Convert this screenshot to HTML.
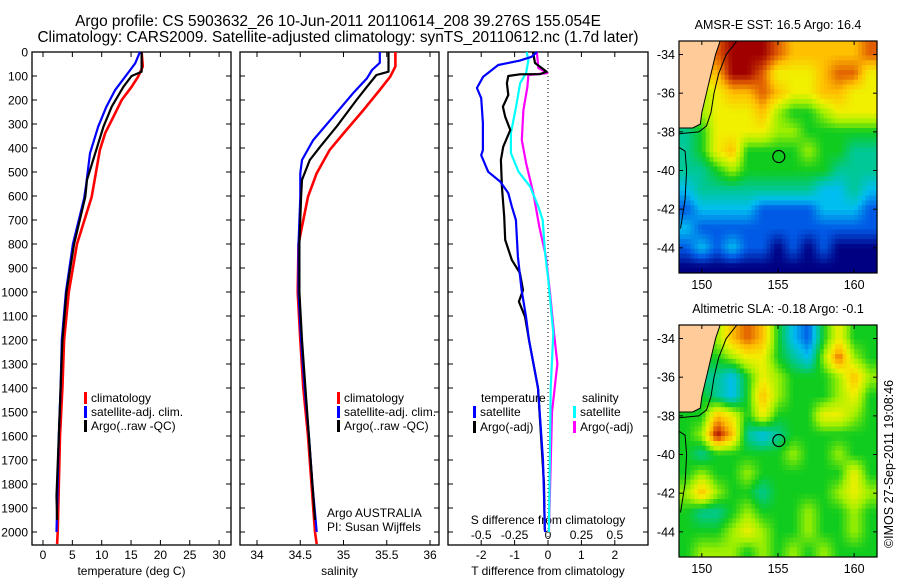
<!DOCTYPE html>
<html><head><meta charset="utf-8"><style>
html,body{margin:0;padding:0;background:#fff}
svg{display:block;font-family:"Liberation Sans",sans-serif}
text{fill:#000}
</style></head><body>
<svg id="fig" width="900" height="580" viewBox="0 0 900 580">
<rect width="900" height="580" fill="#fff"/>
<text x="338" y="26" font-size="15.4" text-anchor="middle">Argo profile: CS 5903632_26 10-Jun-2011 20110614_208 39.276S 155.054E</text>
<text x="338" y="42" font-size="15.4" text-anchor="middle">Climatology: CARS2009. Satellite-adjusted climatology: synTS_20110612.nc (1.7d later)</text>
<g id="g1"></g>
<g id="g2"></g>
<g id="g3"></g>
<g id="m1"></g>
<g id="m2"></g>
<text transform="translate(893,464) rotate(-90)" font-size="12.5" text-anchor="middle">©IMOS 27-Sep-2011 19:08:46</text>
</svg>
<script>
// ---- profile data ----
const depthTicks=[0,100,200,300,400,500,600,700,800,900,1000,1100,1200,1300,1400,1500,1600,1700,1800,1900,2000];
const tempTicks=[0,5,10,15,20,25,30];
const salTicks=[34,34.5,35,35.5,36];
const tdiffTicks=[-2,-1,0,1,2];
const sdiffTicks=[-0.5,-0.25,0,0.25,0.5];

const tClimDepth=[0,60,103,145,200,270,338,408,520,603,800,1000,1200,1400,1600,2000,2050];
const tClim=[16.8,17.0,16.2,15.1,13.4,12.0,10.6,9.7,8.9,8.3,5.8,4.4,3.6,3.3,2.9,2.5,2.4];
const tSatDepth=[0,47,103,158,228,311,422,561,610,800,1000,1200,1400,1600,2000];
const tSat=[16.5,15.7,14.0,12.3,10.8,9.4,8.0,7.3,7.0,5.1,3.9,3.2,3.0,2.7,2.3];
const tArgoDepth=[0,82,100,145,228,311,422,533,603,800,1000,1200,1400,1600,1850,1950];
const tArgo=[16.8,16.8,15.1,13.7,11.7,10.3,8.9,7.5,7.2,5.3,4.0,3.3,3.0,2.7,2.3,2.4];

const sClimDepth=[0,60,103,158,242,339,408,505,603,800,1000,1200,1400,1600,1800,2000,2050];
const sClim=[35.6,35.6,35.54,35.42,35.23,35.0,34.84,34.69,34.59,34.48,34.47,34.5,34.535,34.59,34.63,34.67,34.69];
const sSatDepth=[0,45,75,110,172,270,367,450,505,603,800,1000,1200,1400,1600,1800,2000];
const sSat=[35.42,35.42,35.33,35.27,35.11,34.88,34.65,34.52,34.5,34.5,34.48,34.48,34.51,34.55,34.6,34.64,34.69];
const sArgoDepth=[0,82,96,145,200,311,395,450,533,603,800,1000,1200,1400,1600,1800,1950];
const sArgo=[35.52,35.52,35.38,35.27,35.15,34.92,34.73,34.61,34.52,34.51,34.49,34.49,34.52,34.56,34.6,34.64,34.67];

const dTSatDepth=[0,20,36,54,103,150,192,296,408,430,499,540,588,645,700,853,992,1103,1200,1400,1700,2000];
const dTSat=[-0.33,-0.49,-0.84,-1.49,-1.94,-2.13,-2.0,-1.95,-1.95,-2.0,-1.79,-1.43,-1.19,-1.08,-0.96,-0.9,-0.79,-0.66,-0.57,-0.3,-0.15,-0.09];
const dTArgoDepth=[0,46,82,92,93,100,130,179,228,270,325,395,450,561,686,783,867,921,992,1040,1103,1200,1400,1800,1990];
const dTArgo=[-0.45,-0.39,-0.04,-0.24,-0.84,-1.19,-1.23,-1.19,-1.35,-1.28,-1.13,-1.34,-1.41,-1.38,-1.31,-1.28,-1.08,-0.84,-0.75,-0.87,-0.69,-0.57,-0.3,-0.12,-0.1];
const dSSatDepth=[0,33,88,130,228,338,421,499,561,645,700,838,950,1171,1400,2000];
const dSSat=[-0.16,-0.147,-0.164,-0.209,-0.239,-0.278,-0.278,-0.22,-0.134,-0.072,-0.04,-0.022,0.002,0.04,0.02,0.007];
const dSArgoDepth=[0,67,88,96,145,242,367,463,588,728,853,1004,1171,1300,1350,1500,2000];
const dSArgo=[-0.084,-0.072,-0.005,-0.147,-0.154,-0.184,-0.196,-0.164,-0.11,-0.065,-0.015,0.015,0.045,0.07,0.06,0.03,0.007];

// ---- map data (1-degree cells, lon 149..161, lat -34..-45; L = land) ----
const sstRows=["LL89998777778","LL79986667886","L567787667766","L566675445666","3466665544444","3467444454433","3345444444333","2333333332232","1222211112221","2111111111111","1212110101000","0000000000000"];
const slaRows=["LL57874214644","LL45664325854","LL32465444575","L432475444564","4476464446654","4597323444444","4344444544544","4544544444464","5754434444565","4334544454454","4445654454454","4555454545444"];
const lonTicks=[150,155,160];
const latTicks=[-34,-36,-38,-40,-42,-44];
const argoLon=155.054, argoLat=-39.276;

const NS="http://www.w3.org/2000/svg";
function mk(parent,tag,attrs,name){const e=document.createElementNS(NS,tag);for(const k in attrs)e.setAttribute(k,attrs[k]);


parent.appendChild(e);return e;}
function txt(parent,x,y,s,anchor,name,size){const t=mk(parent,'text',{x:x,y:y,'font-size':size||12,'text-anchor':anchor||'start'},name);t.textContent=s;return t;}

const TOP=52, BOT=545;
const yD=d=>TOP+d*0.24;
function panel(g,x0,x1,xs,ticks,labels,labelY,xlabel){
  mk(g,'rect',{x:x0,y:TOP,width:x1-x0,height:BOT-TOP,fill:'none',stroke:'#000','stroke-width':1.3},'panel-frame');
  depthTicks.forEach(d=>{mk(g,'line',{x1:x0,x2:x0+5,y1:yD(d),y2:yD(d),stroke:'#000'},'y-tick');
    mk(g,'line',{x1:x1-5,x2:x1,y1:yD(d),y2:yD(d),stroke:'#000'},'y-tick');});
  ticks.forEach((v,i)=>{const x=xs(v);
    mk(g,'line',{x1:x,x2:x,y1:BOT,y2:BOT-5,stroke:'#000'},'x-tick');
    mk(g,'line',{x1:x,x2:x,y1:TOP,y2:TOP+5,stroke:'#000'},'x-tick');
    if(labels)txt(g,x,labelY,labels[i],'middle','x-tick-label');});
  if(xlabel)txt(g,(x0+x1)/2,575,xlabel,'middle','x-axis-title');
}
function line(g,xs,vals,depths,col,w,name){
  const pts=vals.map((v,i)=>xs(v).toFixed(1)+','+yD(depths[i]).toFixed(1)).join(' ');
  mk(g,'polyline',{points:pts,fill:'none',stroke:col,'stroke-width':w,'stroke-linejoin':'round'},name);
}
function legendItem(g,x,y,col,label,name){
  mk(g,'rect',{x:x,y:y-10,width:3,height:12,fill:col},name+'-swatch');
  txt(g,x+7,y,label,'start',name);
}

const g1=document.getElementById('g1'),g2=document.getElementById('g2'),g3=document.getElementById('g3');
depthTicks.forEach(d=>txt(g1,28,yD(d)+4.5,String(d),'end','y-tick-label'));

const xT=v=>43+v*5.87;
panel(g1,32,231,xT,tempTicks,tempTicks.map(String),559,'temperature (deg C)');
line(g1,xT,tClim,tClimDepth,'#f00',2.6,'temp-climatology-line');
line(g1,xT,tSat,tSatDepth,'#00f',2.2,'temp-satellite-line');
line(g1,xT,tArgo,tArgoDepth,'#000',2.2,'temp-argo-line');
legendItem(g1,84,402,'#f00','climatology','legend-climatology');
legendItem(g1,84,416,'#00f','satellite-adj. clim.','legend-satellite');
legendItem(g1,84,430,'#000','Argo(..raw -QC)','legend-argo');

const xS=v=>257+(v-34)*86.5;
panel(g2,240,439,xS,salTicks,['34','34.5','35','35.5','36'],559,'salinity');
line(g2,xS,sClim,sClimDepth,'#f00',2.6,'sal-climatology-line');
line(g2,xS,sSat,sSatDepth,'#00f',2.2,'sal-satellite-line');
line(g2,xS,sArgo,sArgoDepth,'#000',2.2,'sal-argo-line');
legendItem(g2,337,402,'#f00','climatology','legend-climatology');
legendItem(g2,337,416,'#00f','satellite-adj. clim.','legend-satellite');
legendItem(g2,337,430,'#000','Argo(..raw -QC)','legend-argo');
txt(g2,327,517,'Argo AUSTRALIA','start','institution-note');
txt(g2,327,531,'PI: Susan Wijffels','start','pi-note');

const xDT=v=>548+v*33.4;
const xDS=v=>548+v*133.6;
panel(g3,448,648,xDT,tdiffTicks,['-2','-1','0','1','2'],559,'T difference from climatology');
sdiffTicks.forEach(v=>txt(g3,xDS(v),539,String(v),'middle','s-tick-label'));
txt(g3,548,524,'S difference from climatology','middle','s-axis-title');
mk(g3,'line',{x1:548,x2:548,y1:TOP,y2:BOT,stroke:'#000','stroke-dasharray':'1,3'},'zero-line');
line(g3,xDS,dSArgo,dSArgoDepth,'#f0f',2.2,'sdiff-argo-line');
line(g3,xDS,dSSat,dSSatDepth,'#0ff',2.2,'sdiff-satellite-line');
line(g3,xDT,dTArgo,dTArgoDepth,'#000',2.2,'tdiff-argo-line');
line(g3,xDT,dTSat,dTSatDepth,'#00f',2.2,'tdiff-satellite-line');
txt(g3,481,402,'temperature','start','legend-temp-header');
txt(g3,582,402,'salinity','start','legend-sal-header');
legendItem(g3,473,416,'#00f','satellite','legend-tdiff-satellite');
legendItem(g3,473,431,'#000','Argo(-adj)','legend-tdiff-argo');
legendItem(g3,573,416,'#0ff','satellite','legend-sdiff-satellite');
legendItem(g3,573,431,'#f0f','Argo(-adj)','legend-sdiff-argo');

// ---- maps ----
const cmap=[[0,0,130],[0,90,230],[0,190,240],[0,200,150],[16,204,30],[160,240,0],[240,240,0],[255,192,0],[225,95,0],[160,0,0]];
function col(v){v=Math.max(0,Math.min(9,v));const i=Math.min(8,Math.floor(v)),f=v-i;const a=cmap[i],b=cmap[i+1];
  return 'rgb('+a.map((c,k)=>Math.round(c+(b[k]-c)*f)).join(',')+')';}
function grid(rows){return rows.map(r=>r.split('').map(c=>c==='L'?null:+c));}
function val(G,r,c){r=Math.max(0,Math.min(11,r));c=Math.max(0,Math.min(12,c));let v=G[r][c];
  if(v===null){for(let k=1;k<13&&v===null;k++){if(c+k<13&&G[r][c+k]!==null)v=G[r][c+k];}}return v===null?5:v;}
function drawMap(id,rows,x0,y0,title){
  const g=document.getElementById(id);
  const W=198,H=232;
  const px=lon=>x0+(lon-148.5)*15.23, py=lat=>y0+(-33.3-lat)*19.33;
  txt(g,x0+W/2,y0-12,title,'middle','map-title',12.5);
  const G=grid(rows);const step=0.25;
  for(let lat=-33.3;lat>-45.3;lat-=step){for(let lon=148.5;lon<161.5;lon+=step){
    const fy=(-34-(lat-step/2)),fx=(lon+step/2-149);
    const r0=Math.floor(fy),c0=Math.floor(fx),ty=fy-r0,tx=fx-c0;
    const v=(val(G,r0,c0)*(1-tx)+val(G,r0,c0+1)*tx)*(1-ty)+(val(G,r0+1,c0)*(1-tx)+val(G,r0+1,c0+1)*tx)*ty;
    const x=px(lon),y=py(lat);
    mk(g,'rect',{x:x.toFixed(1),y:y.toFixed(1),width:(step*15.23+0.6).toFixed(1),height:(step*19.33+0.6).toFixed(1),fill:col(v)},'map-cell');
  }}
  const land=[[148.5,-33.3],[151.2,-33.3],[150.9,-34.0],[150.6,-35.0],[150.3,-36.0],[150.0,-37.0],[149.9,-37.6],[149.4,-37.8],[148.5,-37.8]];
  mk(g,'polygon',{points:land.map(p=>px(p[0])+','+py(p[1])).join(' '),fill:'#ffcc99',stroke:'#000','stroke-width':1},'land');
  const shelf=[[152.3,-33.3],[151.6,-34.0],[151.1,-35.0],[150.8,-36.0],[150.6,-37.0],[150.3,-37.7],[149.8,-38.0],[148.5,-38.1]];
  mk(g,'polyline',{points:shelf.map(p=>px(p[0])+','+py(p[1])).join(' '),fill:'none',stroke:'#000','stroke-width':1},'coast-contour');
  const tas=[[148.5,-38.8],[148.9,-39.0],[149.0,-40.0],[148.9,-41.5],[148.7,-42.5],[148.6,-43.0]];
  mk(g,'polyline',{points:tas.map(p=>px(p[0])+','+py(p[1])).join(' '),fill:'none',stroke:'#000','stroke-width':1},'tasmania-coast');
  mk(g,'circle',{cx:px(argoLon),cy:py(argoLat),r:6,fill:'none',stroke:'#000','stroke-width':1.2},'argo-float-marker');
  mk(g,'rect',{x:x0,y:y0,width:W,height:H,fill:'none',stroke:'#000','stroke-width':1.2},'map-frame');
  lonTicks.forEach(l=>{const x=px(l);mk(g,'line',{x1:x,x2:x,y1:y0+H,y2:y0+H-4,stroke:'#000'},'lon-tick');
    mk(g,'line',{x1:x,x2:x,y1:y0,y2:y0+4,stroke:'#000'},'lon-tick');
    txt(g,x,y0+H+16,String(l),'middle','lon-tick-label',12.5);});
  latTicks.forEach(l=>{const y=py(l);mk(g,'line',{x1:x0,x2:x0+4,y1:y,y2:y,stroke:'#000'},'lat-tick');
    mk(g,'line',{x1:x0+W-4,x2:x0+W,y1:y,y2:y,stroke:'#000'},'lat-tick');
    txt(g,x0-4,y+4.5,String(l),'end','lat-tick-label',12.5);});
}
drawMap('m1',sstRows,679,41,'AMSR-E SST: 16.5 Argo: 16.4');
drawMap('m2',slaRows,679,325,'Altimetric SLA: -0.18 Argo: -0.1');
</script>
</body></html>
